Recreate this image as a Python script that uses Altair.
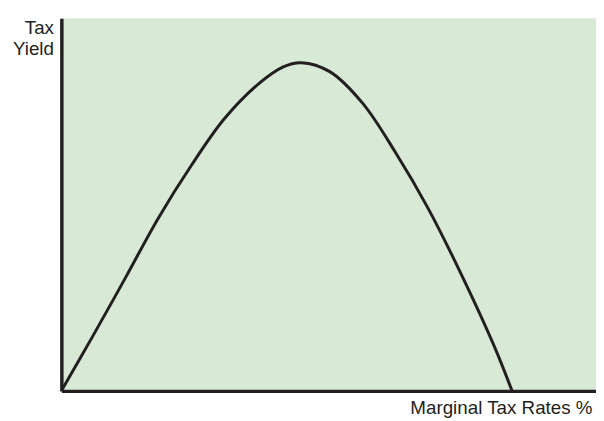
import altair as alt
import pandas as pd

# Laffer curve (x: marginal tax rate %, y: tax yield, both 0-100)
tax_rate = [0.0, 5.8, 12.0, 18.1, 24.3, 30.4, 36.6, 41.5, 44.9, 50.2, 56.3, 62.5, 68.6, 74.8, 81.0, 84.3]
tax_yield = [0.0, 14.5, 30.4, 46.3, 60.5, 72.9, 82.1, 87.0, 88.1, 85.7, 77.3, 64.0, 49.0, 31.3, 11.9, 0.0]

df = pd.DataFrame({"rate": tax_rate, "yield": tax_yield})

ink = "#231f20"

chart = (
    alt.Chart(df)
    .mark_line(color=ink, strokeWidth=3, interpolate="catmull-rom", clip=True)
    .encode(
        x=alt.X(
            "rate:Q",
            scale=alt.Scale(domain=[0, 100], nice=False),
            axis=alt.Axis(
                title="Marginal Tax Rates %",
                labels=False, ticks=False, grid=False,
                domainColor=ink, domainWidth=3.5,
                titleAnchor="start", titleAlign="right", titleX=537, titleY=23,
                titleBaseline="alphabetic",
                titleFont="Liberation Sans", titleFontSize=19, titleFontWeight="normal",
                titleColor=ink,
            ),
        ),
        y=alt.Y(
            "yield:Q",
            scale=alt.Scale(domain=[0, 100], nice=False),
            axis=alt.Axis(
                title=["Tax", "Yield"],
                labels=False, ticks=False, grid=False,
                domainColor=ink, domainWidth=3.5,
                titleAngle=0, titleAlign="right", titleBaseline="alphabetic",
                titleX=-8, titleY=15, titleLineHeight=22,
                titleFont="Liberation Sans", titleFontSize=19, titleFontWeight="normal",
                titleColor=ink,
            ),
        ),
    )
    .properties(
        width=541,
        height=377,
        background="white",
        autosize=alt.AutoSizeParams(type="none"),
        padding={"left": 54, "top": 8, "right": 0, "bottom": 28},
    )
    .configure_view(fill="#d8ead6", strokeWidth=0)
)

chart.save("out.html", embed_options={"renderer": "svg", "actions": False})
